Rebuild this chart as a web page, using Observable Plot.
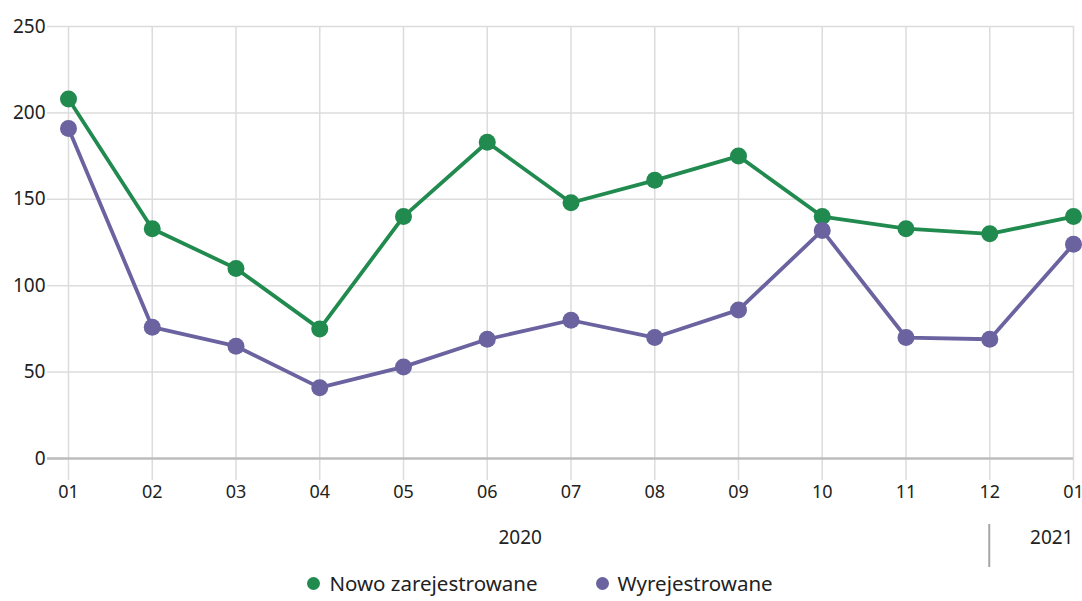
<!DOCTYPE html>
<html>
<head>
<meta charset="utf-8">
<script src="https://cdn.jsdelivr.net/npm/d3@7"></script>
<script src="https://cdn.jsdelivr.net/npm/@observablehq/plot@0.6"></script>
<style>
  html, body { margin: 0; padding: 0; background: #fff; }
  body { width: 1082px; height: 601px; overflow: hidden; font-family: "Noto Sans", "Open Sans", sans-serif; }
  #legend { display: flex; justify-content: center; gap: 58px; font-size: 20.5px; line-height: 22px; color: #222; margin-top: -6px; margin-left: -2px; }
  #legend span.item { display: inline-flex; align-items: center; }
  #legend span.dot { display: inline-block; width: 13px; height: 13px; border-radius: 50%; margin-right: 9px; }
</style>
</head>
<body>
<div id="chart"></div>
<div id="legend"></div>
<script>
const months = ["01","02","03","04","05","06","07","08","09","10","11","12","01"];
const nowo = [208, 133, 110, 75, 140, 183, 148, 161, 175, 140, 133, 130, 140];
const wyrej = [191, 76, 65, 41, 53, 69, 80, 70, 86, 132, 70, 69, 124];
const seriesNames = ["Nowo zarejestrowane", "Wyrejestrowane"];
const colors = ["#218a4f", "#6a63a0"];
const yTicks = [0, 50, 100, 150, 200, 250];
const yearSpans = [{label: "2020", from: 0, to: 11}];
const yearEnd = [{label: "2021", at: 12}];

const data = [];
months.forEach((m, i) => {
  data.push({i, series: seriesNames[0], value: nowo[i]});
  data.push({i, series: seriesNames[1], value: wyrej[i]});
});

const font = "'Noto Sans', 'Open Sans', sans-serif";
const plot = Plot.plot({
  width: 1082,
  height: 578,
  marginLeft: 68,
  marginRight: 9,
  marginTop: 26,
  marginBottom: 120,
  style: {fontFamily: font, fontSize: "19px", color: "#222", background: "#fff", overflow: "visible"},
  x: {type: "linear", domain: [0, 12]},
  y: {domain: [0, 250]},
  color: {domain: seriesNames, range: colors},
  marks: [
    Plot.gridY(yTicks.slice(1), {stroke: "#dcdcdc", strokeOpacity: 1, strokeWidth: 1.5}),
    Plot.gridX(d3.range(13), {stroke: "#dcdcdc", strokeOpacity: 1, strokeWidth: 1.5}),
    Plot.axisY(yTicks, {tickSize: 21, tickPadding: 2, stroke: "#dcdcdc", strokeWidth: 1.5, label: null, fontSize: "19px", fill: "#222"}),
    Plot.axisX(d3.range(13), {tickSize: 22, tickPadding: 5, stroke: "#dcdcdc", strokeWidth: 1.5, tickFormat: i => months[i], label: null, fontSize: "18px", fill: "#222"}),
    Plot.ruleY([0], {stroke: "#bdbdbd", strokeWidth: 2.5, insetLeft: -21}),
    Plot.line(data, {x: "i", y: "value", stroke: "series", strokeWidth: 3.8}),
    Plot.dot(data, {x: "i", y: "value", fill: "series", r: 8.5}),
    Plot.text(yearSpans, {
      x: d => (d.from + d.to) / 2,
      text: "label",
      frameAnchor: "bottom",
      dy: 85,
      dx: -9,
      fontSize: "19px",
      fill: "#222"
    }),
    Plot.text(yearEnd, {
      x: "at",
      text: "label",
      frameAnchor: "bottom",
      dy: 85,
      dx: 0,
      textAnchor: "end",
      fontSize: "19px",
      fill: "#222"
    })
  ]
});
document.getElementById("chart").appendChild(plot);

// year separator below the axis
const sx = plot.scale("x").apply(11);
const sy = plot.scale("y").apply(0);
d3.select(plot).append("line")
  .attr("x1", sx).attr("x2", sx)
  .attr("y1", sy + 66).attr("y2", sy + 109)
  .attr("stroke", "#a6a6a6").attr("stroke-width", 2);

const legend = document.getElementById("legend");
seriesNames.forEach((s, k) => {
  const item = document.createElement("span");
  item.className = "item";
  item.innerHTML = `<span class="dot" style="background:${colors[k]}"></span>${s}`;
  legend.appendChild(item);
});
</script>
</body>
</html>
